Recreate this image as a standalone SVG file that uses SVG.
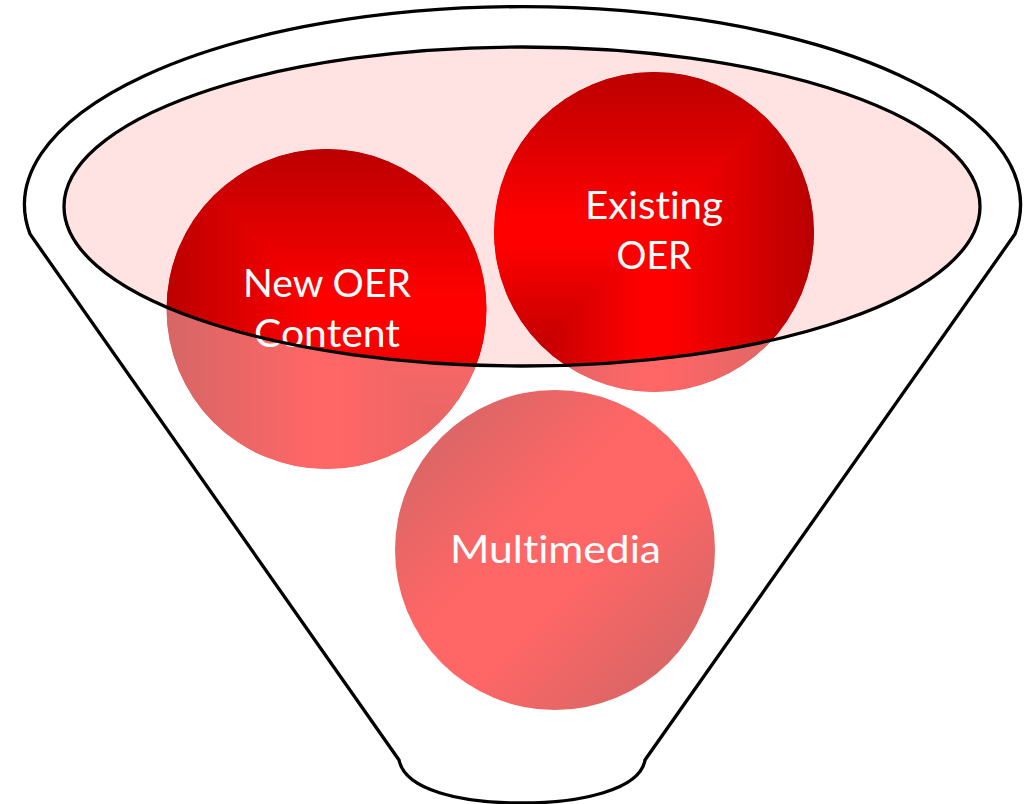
<svg xmlns="http://www.w3.org/2000/svg" xmlns:xlink="http://www.w3.org/1999/xlink" width="1032" height="804" viewBox="0 0 1032 804">
<style>
.label{font-family:"Lato","Carlito","Open Sans",sans-serif;font-size:39.5px;fill:#fff;text-anchor:middle;font-variant-ligatures:none}
.line{fill:none;stroke:#000;stroke-width:3.3}
polygon{shape-rendering:crispEdges}
</style>
<defs>
<path id="funnelPath" d="M30 234 A498 198 0 1 1 1015 234 L645 760 C640 790 580 803 522 803 C460 803 405 790 399 760 Z"/>
<clipPath id="clipN"><circle cx="326.5" cy="309" r="160"/></clipPath>
<clipPath id="clipE"><circle cx="654" cy="232" r="160"/></clipPath>
<linearGradient id="nT" gradientUnits="userSpaceOnUse" x1="0" y1="149" x2="0" y2="309"><stop offset="0" stop-color="#bc0000"/><stop offset=".92" stop-color="#f00"/></linearGradient>
<linearGradient id="nL" gradientUnits="userSpaceOnUse" x1="167" y1="0" x2="326.5" y2="0"><stop offset="0" stop-color="#bc0000"/><stop offset=".92" stop-color="#f00"/></linearGradient>
<linearGradient id="nV" gradientUnits="userSpaceOnUse" x1="0" y1="309" x2="0" y2="469"><stop offset=".08" stop-color="#f00"/><stop offset="1" stop-color="#cc0000"/></linearGradient>
<linearGradient id="nH" gradientUnits="userSpaceOnUse" x1="326.5" y1="0" x2="486.5" y2="0"><stop offset=".08" stop-color="#f00"/><stop offset="1" stop-color="#cc0000"/></linearGradient>
<linearGradient id="eT" gradientUnits="userSpaceOnUse" x1="0" y1="72" x2="0" y2="232"><stop offset="0" stop-color="#bc0000"/><stop offset=".92" stop-color="#f00"/></linearGradient>
<linearGradient id="eR" gradientUnits="userSpaceOnUse" x1="654" y1="0" x2="814" y2="0"><stop offset=".08" stop-color="#f00"/><stop offset="1" stop-color="#b80000"/></linearGradient>
<linearGradient id="eV" gradientUnits="userSpaceOnUse" x1="0" y1="232" x2="0" y2="392"><stop offset=".08" stop-color="#f00"/><stop offset="1" stop-color="#a80000"/></linearGradient>
<linearGradient id="eH" gradientUnits="userSpaceOnUse" x1="654" y1="0" x2="494" y2="0"><stop offset=".08" stop-color="#f00"/><stop offset="1" stop-color="#a80000"/></linearGradient>
<linearGradient id="mG" gradientUnits="userSpaceOnUse" x1="442" y1="437" x2="668" y2="663"><stop offset="0" stop-color="#c60000"/><stop offset=".38" stop-color="#f00"/><stop offset=".62" stop-color="#f00"/><stop offset="1" stop-color="#c40000"/></linearGradient>
</defs>
<ellipse id="funnel-mouth-fill" cx="522" cy="206.5" rx="458" ry="159.5" fill="#ffe2e2"/>
<g id="node-new-oer">
<g clip-path="url(#clipN)">
<circle cx="326.5" cy="309" r="160" fill="#e00000"/>
<polygon points="326.5,309 487,309 487,149 487,148 166,148" fill="url(#nT)"/>
<polygon points="326.5,309 166,148 166,470 326.5,470" fill="url(#nL)"/>
<polygon points="326.5,309 487,309 487,470" fill="url(#nV)"/>
<polygon points="326.5,309 487,470 326.5,470" fill="url(#nH)"/>
</g>
<text class="label" x="327" y="297" textLength="168" lengthAdjust="spacingAndGlyphs">New OER</text>
<text class="label" x="327" y="347" textLength="146" lengthAdjust="spacingAndGlyphs">Content</text>
</g>
<g id="node-existing-oer">
<g clip-path="url(#clipE)">
<circle cx="654" cy="232" r="160" fill="#e00000"/>
<polygon points="654,232 493,232 493,71 815,71" fill="url(#eT)"/>
<polygon points="654,232 815,71 815,393 654,393" fill="url(#eR)"/>
<polygon points="654,232 493,232 493,393" fill="url(#eV)"/>
<polygon points="654,232 493,393 654,393" fill="url(#eH)"/>
</g>
<text class="label" x="654" y="219" textLength="138" lengthAdjust="spacingAndGlyphs">Existing</text>
<text class="label" x="654" y="269" textLength="75" lengthAdjust="spacingAndGlyphs">OER</text>
</g>
<g id="node-multimedia">
<circle cx="555" cy="550" r="160" fill="url(#mG)"/>
</g>
<path id="funnel-veil" d="M30 234 A498 198 0 1 1 1015 234 L645 760 C640 790 580 803 522 803 C460 803 405 790 399 760 Z M64 206.5 A458 159.5 0 1 0 980 206.5 A458 159.5 0 1 0 64 206.5 Z" fill="#fff" fill-opacity=".4" fill-rule="evenodd"/>
<text id="label-multimedia" class="label" x="555.5" y="563" textLength="211" lengthAdjust="spacingAndGlyphs">Multimedia</text>
<g id="connectors">
<ellipse class="line" cx="522" cy="206.5" rx="458" ry="159.5"/>
<use xlink:href="#funnelPath" href="#funnelPath" class="line"/>
</g>
</svg>
